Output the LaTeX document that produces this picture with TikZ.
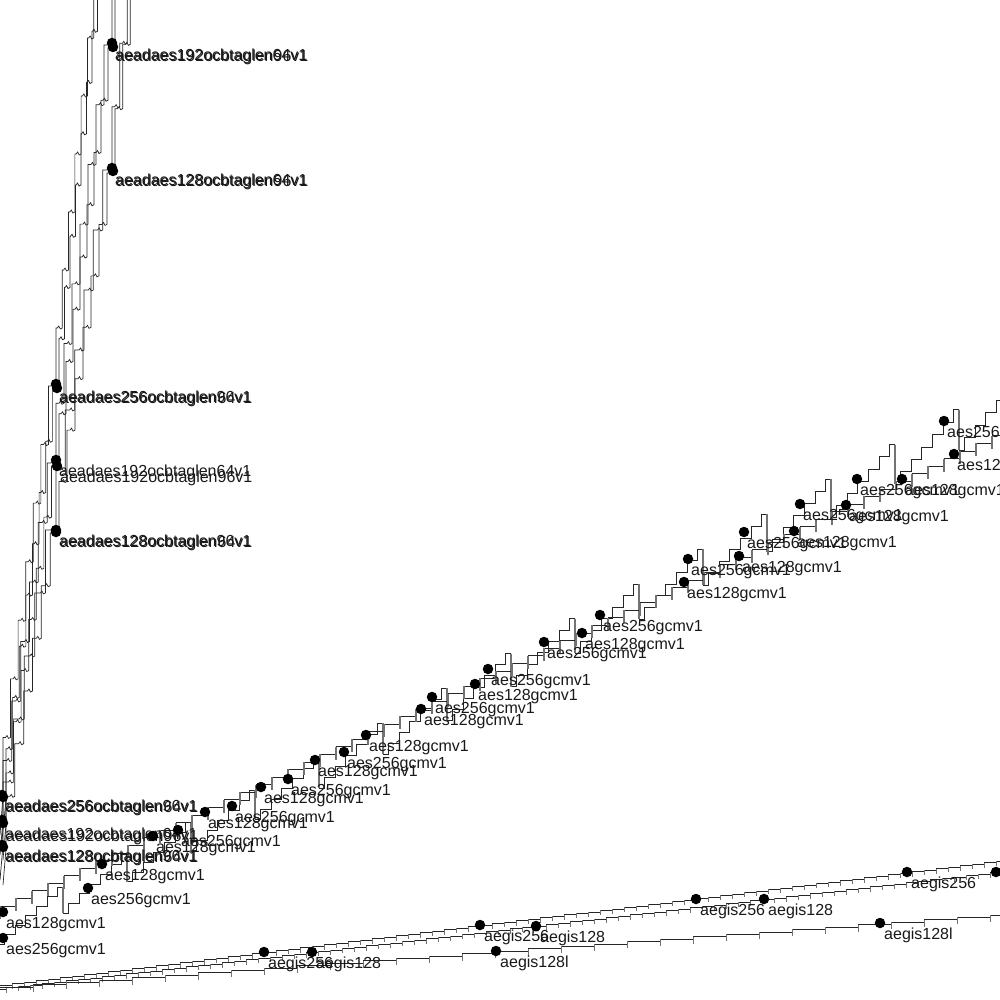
\documentclass[tikz,border=0pt]{standalone}
\usepackage{fontspec}
\setmainfont{Liberation Sans}
\newcommand\stairup[5]{\draw[serline] (#1,#2) \foreach \k in {1,...,#5}{ |- ({#1+(#3-#1)*\k/#5-5},{#2+(#4-#2)*\k/#5}) -- ++(1.5,-2) -- ++(1.5,3) -- ++(2,-1) };}
\def\Tf#1{min(931.5-0.544*(#1),918.8-0.504*(#1))}
\def\Df#1{(25+0.016*(#1))}
\begin{document}
\begin{tikzpicture}[x=1pt,y=-1pt,
  serline/.style={black!85,line width=0.7pt},
  dropline/.style={black!55,line width=1.3pt},
  combtick/.style={black!55,line width=1.3pt},
  smalltick/.style={black!55,line width=1pt},
  dotmark/.style={circle,fill=black,inner sep=0pt,minimum size=10.5pt},
  lab/.style={anchor=base west,inner sep=0pt,text=black!90,font=\fontsize{16}{18}\selectfont}]
\useasboundingbox (0,0) rectangle (1000,1000);
\clip (0,0) rectangle (1000,1000);
\fill[white] (0,0) rectangle (1000,1000);

% ---------- aeadaes ocb series (steep) ----------
% 256
\draw[serline] (0,835) -- (3,796);
\stairup{3}{796}{56}{386}{7}
\stairup{56}{386}{100}{-20}{7}
\draw[serline] (2,840) -- (6,800);
\stairup{6}{800}{59}{390}{8}
\stairup{59}{390}{103}{-20}{8}
% 192
\draw[serline] (0,855) -- (3,820);
\stairup{3}{820}{56}{463}{6}
\stairup{56}{463}{112}{45}{7}
\stairup{112}{45}{117}{-20}{1}
\draw[serline] (3,860) -- (6,824);
\stairup{6}{824}{59}{466}{7}
\stairup{59}{466}{115}{48}{8}
\stairup{115}{48}{121}{-20}{1}
% 128
\draw[serline] (0,880) -- (3,845);
\stairup{3}{845}{56}{530}{5}
\stairup{56}{530}{112}{170}{6}
\stairup{112}{170}{135}{-20}{3}
\draw[serline] (3,885) -- (6,849);
\stairup{6}{849}{59}{533}{6}
\stairup{59}{533}{115}{173}{7}
\stairup{115}{173}{138}{-20}{3}

% ---------- aes gcm series ----------
% aes256 (sawtooth)
\draw[serline] \foreach \k in {0,...,15}{
  ({-1+64*\k},{\Tf{-1+64*\k}+\Df{-1+64*\k}})
  \foreach \j in {1,...,6}{
    -| ({-6.333+64*\k+10.667*\j},{\Tf{-1+64*\k}+\Df{-1+64*\k}-(\Tf{-1+64*\k}+\Df{-1+64*\k}-\Tf{63+64*\k})*\j/6})
  }
  -- ({63+64*\k},{\Tf{63+64*\k}})
};
\foreach \k in {1,...,16}{\draw[dropline] ({-1+64*\k},{\Tf{-1+64*\k}}) -- ++(0,{\Df{-1+64*\k}});}
% aes128 (comb)
\draw[serline] (0,906) \foreach \k in {1,...,63}{ -| ({16*\k},{906-7.584*\k}) };
\foreach \k in {0,...,63}{\draw[combtick] ({16*\k},{906-7.584*\k}) -- ++(0,13);}

% ---------- aegis series ----------
\draw[serline] (0,985) \foreach \k in {1,...,84}{ -| ({12*\k},{985-1.493*\k}) };
\foreach \k in {1,...,84}{\draw[smalltick] ({12*\k},{985-1.493*\k}) -- ++(0,5);}
\draw[serline] (0,989) \foreach \k in {0,...,83}{ -| ({6+12*\k},{988.5-0.117*(6+12*\k)}) };
\foreach \k in {0,...,83}{\draw[smalltick] ({6+12*\k},{988.5-0.117*(6+12*\k)}) -- ++(0,5);}
\draw[serline] (0,987) \foreach \k in {1,...,31}{ -| ({33*\k},{987.2-2.406*\k}) };
\foreach \k in {1,...,31}{\draw[smalltick] ({33*\k},{987.2-2.406*\k}) -- ++(0,7);}

% ---------- dots and labels: aeadaes ----------
\node[dotmark] (o192a) at (112,43) {};
\node[dotmark] (o192b) at (113,47) {};
\node[lab] (lo192a) at (115,61) {aeadaes192ocbtaglen64v1};
\node[lab] (lo192b) at (116,62) {aeadaes192ocbtaglen96v1};
\node[dotmark] (o128a) at (112,168) {};
\node[dotmark] (o128b) at (113,171) {};
\node[lab] (lo128a) at (115,186) {aeadaes128ocbtaglen64v1};
\node[lab] (lo128b) at (116,187) {aeadaes128ocbtaglen96v1};
\node[dotmark] (m256a) at (56,384) {};
\node[dotmark] (m256b) at (57,388) {};
\node[lab] (lm256a) at (59,402) {aeadaes256ocbtaglen96v1};
\node[lab] (lm256b) at (60,403) {aeadaes256ocbtaglen64v1};
\node[dotmark] (m192a) at (56,460) {};
\node[dotmark] (m192b) at (57,466) {};
\node[lab] (lm192a) at (59,476) {aeadaes192ocbtaglen64v1};
\node[lab] (lm192b) at (60,482) {aeadaes192ocbtaglen96v1};
\node[dotmark] (m128a) at (56,530) {};
\node[dotmark] (m128b) at (56,532) {};
\node[lab] (lm128a) at (59,546) {aeadaes128ocbtaglen96v1};
\node[lab] (lm128b) at (60,547) {aeadaes128ocbtaglen64v1};
\node[dotmark] (b256a) at (2,795) {};
\node[dotmark] (b256b) at (3,797) {};
\node[lab] (lb256a) at (5,811) {aeadaes256ocbtaglen96v1};
\node[lab] (lb256b) at (6,812) {aeadaes256ocbtaglen64v1};
\node[dotmark] (b192a) at (2,820) {};
\node[dotmark] (b192b) at (3,823) {};
\node[lab] (lb192a) at (5,839) {aeadaes192ocbtaglen64v1};
\node[lab] (lb192b) at (6,841) {aeadaes192ocbtaglen96v1};
\node[dotmark] (b128a) at (2,845) {};
\node[dotmark] (b128b) at (3,847) {};
\node[lab] (lb128a) at (5,861) {aeadaes128ocbtaglen96v1};
\node[lab] (lb128b) at (6,862) {aeadaes128ocbtaglen64v1};

% ---------- dots and labels: aes gcm ----------
\foreach \x/\y [count=\i] in {3/912,102/864,153/836,205/812,261/787,315/760,366/735,421/709,475/684,582/633,684/582,739/556,794/531,846/505,902/479,954/454}{
  \node[dotmark] (g128d\i) at (\x,\y) {};
  \node[lab] (g128l\i) at ({\x+3},{\y+16}) {aes128gcmv1};
}
\foreach \x/\y [count=\i] in {3/938,88/888,178/830,232/806,288/779,344/752,432/697,488/669,544/642,600/615,688/559,744/532,800/504,857/479,944/421}{
  \node[dotmark] (g256d\i) at (\x,\y) {};
  \node[lab] (g256l\i) at ({\x+3},{\y+16}) {aes256gcmv1};
}

% ---------- dots and labels: aegis ----------
\foreach \x/\y [count=\i] in {264/952,480/925,696/899,907/872}{
  \node[dotmark] (e256d\i) at (\x,\y) {};
  \node[lab] (e256l\i) at ({\x+4},{\y+16}) {aegis256};
}
\foreach \x/\y [count=\i] in {312/952,536/926,764/899,996/872}{
  \node[dotmark] (e128d\i) at (\x,\y) {};
  \node[lab] (e128l\i) at ({\x+4},{\y+16}) {aegis128};
}
\foreach \x/\y [count=\i] in {496/951,880/923}{
  \node[dotmark] (e128ld\i) at (\x,\y) {};
  \node[lab] (e128ll\i) at ({\x+4},{\y+16}) {aegis128l};
}
\end{tikzpicture}
\end{document}
